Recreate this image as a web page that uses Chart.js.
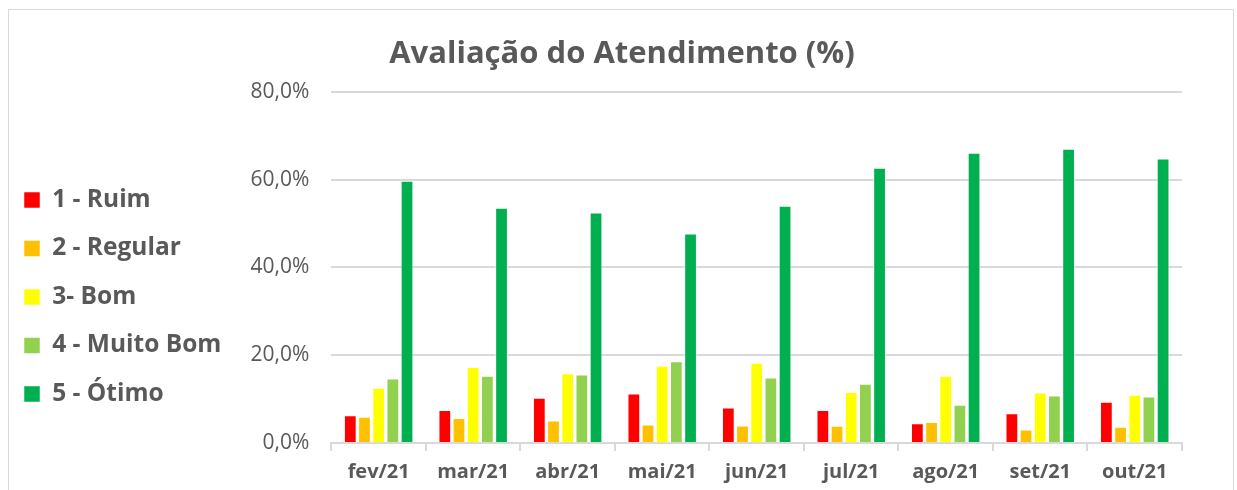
<!DOCTYPE html>
<html>
<head>
<meta charset="utf-8">
<script src="https://cdn.jsdelivr.net/npm/chart.js@4.4.0/dist/chart.umd.min.js"></script>
<style>
  html, body { margin: 0; padding: 0; background: #fff; }
  #wrap { position: relative; width: 1237px; height: 490px; overflow: hidden; }
  #frame { position: absolute; left: 8px; top: 9px; width: 1224px; height: 520px; border: 1px solid #d9d9d9; }
  canvas { position: absolute; left: 0; top: 0; }
</style>
</head>
<body>
<div id="wrap">
  <div id="frame"></div>
  <canvas id="chart" width="1237" height="490"></canvas>
</div>
<script>
// ===========================
// Dados do gráfico
// ===========================
const meses = ["fev/21", "mar/21", "abr/21", "mai/21", "jun/21", "jul/21", "ago/21", "set/21", "out/21"];
const ruim      = [6.3, 7.5, 10.3, 11.3, 8.1, 7.5, 4.5, 6.8, 9.4];
const regular   = [6.0, 5.7, 5.1, 4.2, 4.0, 3.9, 4.8, 3.1, 3.7];
const bom       = [12.6, 17.3, 15.9, 17.6, 18.3, 11.6, 15.3, 11.5, 11.0];
const muitoBom  = [14.7, 15.3, 15.6, 18.6, 14.9, 13.5, 8.7, 10.8, 10.6];
const otimo     = [59.7, 53.6, 52.5, 47.7, 54.0, 62.7, 66.1, 67.0, 64.8];
const yTicks    = [0, 20, 40, 60, 80];

const cinza = "#595959";
const fonte = "'Open Sans', sans-serif";

function serie(label, data, cor) {
  return {
    label,
    data,
    backgroundColor: cor,
    borderColor: "rgba(255,255,255,0.5)",
    borderWidth: 1,
    categoryPercentage: 0.75,
    barPercentage: 0.9
  };
}

// ajustes finos de posição: legenda um pouco abaixo do centro,
// título centralizado na largura toda (como no Excel)
const ajustesLayout = {
  id: "ajustesLayout",
  afterLayout(chart) {
    const lg = chart.legend;
    if (lg) {
      lg.top += 52;
      lg.bottom += 52;
    }
    const tt = chart.titleBlock;
    if (tt) {
      tt.left += 31;
      tt.right += 31;
    }
  }
};

// ===========================
// Gráfico
// ===========================
const ctx = document.getElementById("chart").getContext("2d");
new Chart(ctx, {
  type: "bar",
  data: {
    labels: meses,
    datasets: [
      serie("1 - Ruim", ruim, "#FF0000"),
      serie("2 - Regular", regular, "#FFC000"),
      serie("3- Bom", bom, "#FFFF00"),
      serie("4 - Muito Bom", muitoBom, "#92D050"),
      serie("5 - Ótimo", otimo, "#00B050")
    ]
  },
  options: {
    responsive: false,
    animation: false,
    layout: { padding: { left: 0, right: 55, top: 0, bottom: 0 } },
    plugins: {
      title: {
        display: true,
        text: "Avaliação do Atendimento (%)",
        color: cinza,
        font: { family: fonte, size: 31, weight: "bold" },
        padding: { top: 36, bottom: 18.5 }
      },
      legend: {
        position: "left",
        labels: {
          color: cinza,
          font: { family: fonte, size: 24.5, weight: "bold" },
          boxWidth: 16,
          boxHeight: 16,
          padding: 24
        }
      },
      tooltip: { enabled: false }
    },
    scales: {
      x: {
        afterFit: scale => { scale.height = 47; },
        grid: {
          drawOnChartArea: false,
          drawTicks: true,
          tickLength: 8,
          color: "#d9d9d9",
          lineWidth: 2
        },
        border: { color: "#d9d9d9", width: 2 },
        ticks: {
          color: cinza,
          font: { family: fonte, size: 20, weight: "bold" },
          padding: 9
        }
      },
      y: {
        min: 0,
        max: 80,
        afterBuildTicks: scale => { scale.ticks = yTicks.map(v => ({ value: v })); },
        afterFit: scale => { scale.width = 100; },
        grid: { color: "#d9d9d9", lineWidth: 2, drawTicks: false },
        border: { display: false },
        ticks: {
          color: cinza,
          font: { family: fonte, size: 21 },
          padding: 22,
          callback: v => v.toFixed(1).replace(".", ",") + "%"
        }
      }
    }
  },
  plugins: [ajustesLayout]
});
</script>
</body>
</html>
